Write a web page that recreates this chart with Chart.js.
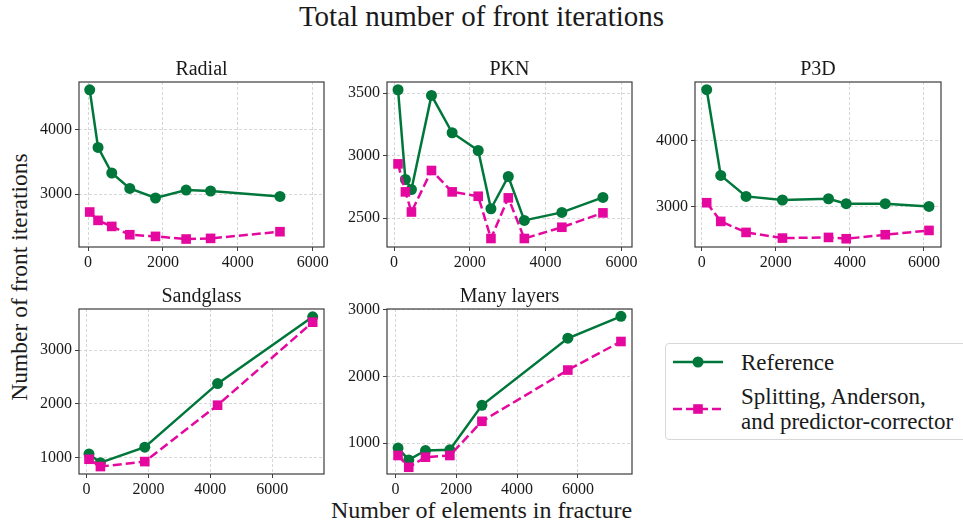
<!DOCTYPE html>
<html>
<head>
<meta charset="utf-8">
<title>Total number of front iterations</title>
<script src="https://cdn.jsdelivr.net/npm/chart.js@4"></script>
<style>
  body { margin: 0; width: 963px; height: 529px; background: #fff; position: relative; overflow: hidden;
         font-family: 'Liberation Serif', serif; color: #1a1a1a; }
  .txt { position: absolute; white-space: nowrap; line-height: 1; }
  #legend { position: absolute; left: 665px; top: 343px; width: 320px; height: 95px;
            border: 1px solid #d8d8d8; border-radius: 4px; background: #fff; }
  #legend svg { position: absolute; }
  #legend .lbl { position: absolute; font-size: 23px; line-height: 25px; white-space: nowrap; }
</style>
</head>
<body>

<div class="txt" style="left:0;width:963px;text-align:center;top:2px;font-size:29px;">Total number of front iterations</div>
<div class="txt" style="left:0;width:963px;text-align:center;top:498px;font-size:24px;">Number of elements in fracture</div>
<div class="txt" style="left:20px;top:277px;font-size:23.5px;transform:translate(-50%,-50%) rotate(-90deg);">Number of front iterations</div>

<div id="legend">
  <svg width="52" height="20" style="left:7px;top:8px">
    <line x1="0" y1="10" x2="50" y2="10" stroke="#00773a" stroke-width="2.5"/>
    <circle cx="25" cy="10" r="5.5" fill="#00773a"/>
  </svg>
  <div class="lbl" style="left:75px;top:6px">Reference</div>
  <svg width="52" height="20" style="left:7px;top:55px">
    <line x1="0" y1="10" x2="50" y2="10" stroke="#e5089f" stroke-width="2.5" stroke-dasharray="9,4"/>
    <rect x="20.2" y="5.2" width="9.6" height="9.6" fill="#e5089f"/>
  </svg>
  <div class="lbl" style="left:75px;top:40px">Splitting, Anderson,<br>and predictor-corrector</div>
</div>

<script>
// ── Data ──────────────────────────────────────────────
const xTicks = [0, 2000, 4000, 6000];

const radialX   = [45, 267, 634, 1115, 1802, 2620, 3273, 5126];
const radialRef = [4620, 3725, 3327, 3087, 2938, 3062, 3047, 2963];
const radialSpl = [2720, 2590, 2496, 2367, 2341, 2300, 2310, 2414];
const radialYTicks = [3000, 4000];

const pknX   = [106, 301, 460, 989, 1534, 2222, 2558, 3016, 3439, 4429, 5513];
const pknRef = [3526, 2808, 2728, 3481, 3182, 3040, 2574, 2832, 2481, 2545, 2665];
const pknSpl = [2933, 2709, 2548, 2880, 2709, 2674, 2336, 2661, 2336, 2426, 2541];
const pknYTicks = [2500, 3000, 3500];

const p3dX   = [135, 514, 1197, 2179, 3422, 3900, 4954, 6135];
const p3dRef = [4768, 3470, 3152, 3097, 3116, 3041, 3041, 3000];
const p3dSpl = [3056, 2773, 2606, 2520, 2530, 2510, 2571, 2636];
const p3dYTicks = [3000, 4000];

const sandX   = [84, 452, 1884, 4233, 7302];
const sandRef = [1069, 907, 1194, 2376, 3618];
const sandSpl = [970, 834, 927, 1975, 3518];
const sandYTicks = [1000, 2000, 3000];

const layersX   = [86, 438, 988, 1789, 2843, 5667, 7413];
const layersRef = [925, 748, 889, 899, 1567, 2572, 2900];
const layersSpl = [814, 638, 789, 814, 1327, 2095, 2523];
const layersYTicks = [1000, 2000, 3000];

const GREEN = '#00773a';
const PINK  = '#e5089f';
const FONT  = 'Liberation Serif';

// ── Panels: title, data, axis limits, plot box [left, top, width, height] ──
const panels = [
  { title: 'Radial',      x: radialX, ref: radialRef, spl: radialSpl, yTicks: radialYTicks,
    xLim: [-241, 6302], yLim: [2176, 4742], box: [79, 82, 245, 165] },
  { title: 'PKN',         x: pknX,    ref: pknRef,    spl: pknSpl,    yTicks: pknYTicks,
    xLim: [-185, 6280], yLim: [2268, 3588], box: [387, 82, 245, 165] },
  { title: 'P3D',         x: p3dX,    ref: p3dRef,    spl: p3dSpl,    yTicks: p3dYTicks,
    xLim: [-181, 6459], yLim: [2385, 4885], box: [695, 82, 246, 165] },
  { title: 'Sandglass',   x: sandX,   ref: sandRef,   spl: sandSpl,   yTicks: sandYTicks,
    xLim: [-239, 7667], yLim: [696, 3763],  box: [79, 309, 245, 165] },
  { title: 'Many layers', x: layersX, ref: layersRef, spl: layersSpl, yTicks: layersYTicks,
    xLim: [-277, 7776], yLim: [537, 3010],  box: [387, 309, 245, 165] },
];

// axes frame drawn on all four sides
const frame = {
  id: 'frame',
  afterDraw(chart) {
    const { ctx, chartArea: a } = chart;
    ctx.save();
    ctx.strokeStyle = '#3c3c3c';
    ctx.lineWidth = 1.2;
    ctx.strokeRect(a.left, a.top, a.right - a.left, a.bottom - a.top);
    ctx.restore();
  }
};

// y-axis width, title height, x-axis height, right padding
const YW = 60, TH = 24, XH = 30, PR = 22;

function axis(lim, ticks, horizontal) {
  return {
    type: 'linear',
    min: lim[0],
    max: lim[1],
    afterBuildTicks: s => { s.ticks = ticks.map(v => ({ value: v })); },
    afterFit: s => { if (horizontal) s.height = XH; else s.width = YW; },
    ticks: { color: '#1a1a1a', font: { family: FONT, size: 16 }, padding: horizontal ? 2 : 3,
             callback: v => String(v) },
    grid: { color: '#cdcdcd', lineWidth: 0.8, tickLength: 4, tickColor: '#3c3c3c', tickWidth: 1 },
    border: { display: false, dash: [3, 2] }
  };
}

function makePanel(p) {
  const [bl, bt, bw, bh] = p.box;
  const cv = document.createElement('canvas');
  cv.width = YW + bw + PR;
  cv.height = TH + bh + XH;
  cv.style.cssText = `position:absolute;left:${bl - YW}px;top:${bt - TH}px;`;
  document.body.appendChild(cv);

  new Chart(cv, {
    type: 'line',
    data: {
      datasets: [
        {
          label: 'Reference',
          data: p.x.map((x, i) => ({ x, y: p.ref[i] })),
          borderColor: GREEN, backgroundColor: GREEN,
          borderWidth: 2.5, pointStyle: 'circle', pointRadius: 5.5, pointBorderWidth: 0,
          tension: 0, clip: false, order: 2
        },
        {
          label: 'Splitting, Anderson, and predictor-corrector',
          data: p.x.map((x, i) => ({ x, y: p.spl[i] })),
          borderColor: PINK, backgroundColor: PINK,
          borderWidth: 2.5, borderDash: [9, 4], pointStyle: 'rect', pointRadius: 6.8, pointBorderWidth: 0,
          tension: 0, clip: false, order: 1
        }
      ]
    },
    options: {
      responsive: false,
      animation: false,
      layout: { padding: { left: 0, right: PR, top: 0, bottom: 0 } },
      plugins: {
        legend: { display: false },
        tooltip: { enabled: false },
        // title spans the plot box only, so it sits centred above it
        title: { display: true, fullSize: false, text: p.title, color: '#1a1a1a',
                 font: { family: FONT, size: 20, weight: 'normal', lineHeight: 1.2 },
                 padding: { top: 0, bottom: 0 } }
      },
      scales: {
        x: axis(p.xLim, xTicks, true),
        y: axis(p.yLim, p.yTicks, false)
      }
    },
    plugins: [frame]
  });
}

panels.forEach(makePanel);
</script>
</body>
</html>
